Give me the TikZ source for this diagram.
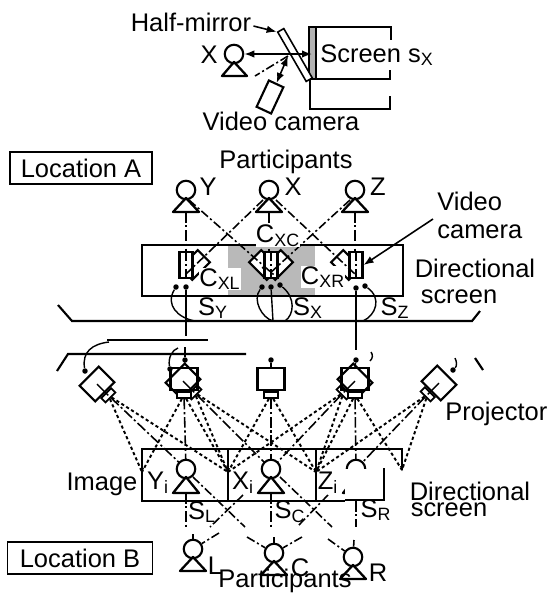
\documentclass[tikz,border=0pt]{standalone}
\usepackage{fontspec}
\setmainfont{Liberation Sans}
\usetikzlibrary{arrows.meta,positioning,calc}

\tikzset{
  txt/.style={inner sep=0pt, font=\fontsize{14.5}{14.5}\selectfont, align=center},
  head/.style={draw, circle, line width=1.2pt, minimum size=0.37cm, inner sep=0pt, fill=white},
  body/.style={draw, line width=1.3pt, join=round},
  ray/.style={line width=0.9pt, dash pattern=on 5pt off 1.6pt on 1.2pt off 1.6pt},
  beam/.style={line width=1.1pt, dash pattern=on 1.8pt off 1.5pt},
  axis/.style={line width=0.9pt, dash pattern=on 6pt off 1.6pt on 1.2pt off 1.6pt},
  wire/.style={line width=0.8pt},
  bar/.style={line width=1.2pt},
  tip/.style={circle, fill=black, inner sep=0pt, minimum size=0.11cm},
  unit/.style={draw, line width=1.2pt, minimum width=0.54cm, minimum height=0.44cm, inner sep=0pt, fill=white},
  lens/.style={draw, line width=1pt, minimum width=0.28cm, minimum height=0.12cm, inner sep=0pt, fill=white, anchor=north},
  camera/.style={draw, line width=1.2pt, minimum width=0.26cm, minimum height=0.52cm, inner sep=0pt, fill=white},
  small/.style={draw, line width=1.2pt, minimum width=0.34cm, minimum height=0.5cm, inner sep=0pt, fill=white},
  tag/.style={draw, line width=0.7pt, inner sep=0pt, font=\fontsize{14.5}{14.5}\selectfont},
  arrow/.style={-{Latex[length=2mm]}, line width=0.9pt}
}

\begin{document}
\begin{tikzpicture}[x=0.02cm, y=-0.02cm]
\useasboundingbox (0,0) rectangle (550,593);

% half-mirror set-up
\fill[gray!60] (309,27) rectangle (316,79);
\draw[bar] (309,27) rectangle (316,79);
\draw[bar] (309,27) -- (391,27);
\draw[bar] (391,26) -- (391,40);
\draw[wire] (390,70) -- (390,79) -- (310,79) -- (310,109) -- (390,109) -- (390,96);
\node[draw, line width=0.9pt, minimum width=0.14cm, minimum height=1.14cm, inner sep=0pt, rotate=30, fill=white] (mirror) at (295,55) {};
\node[draw, line width=1.2pt, minimum width=0.32cm, minimum height=0.58cm, inner sep=0pt, rotate=-25] (cam0) at (270,97) {};
\node[head] (h0) at (234,54) {};
\draw[body] (234,62) -- (247,76) -- (222,76) -- cycle;
\coordinate (hit) at (288,56);
\coordinate (sx) at (312,54);
\draw[arrow] (hit|-sx) -- (h0);
\draw[arrow] (hit|-sx) -- (sx);
\draw[arrow, {Latex[length=2mm]}-{Latex[length=2mm]}] (hit) -- (cam0.north);
\draw[ray] (hit) -- (255,76);
\node[txt] (lab0) at (191,22) {Half-mirror};
\draw[arrow] (lab0.east) ++(2,4) -- (mirror.north west);
\node[txt] at (209,55) {X};
\node[txt, anchor=west] at (320,55) {Screen s\textsubscript{X}};
\node[txt] at (281,121) {Video camera};

% location A
\node[tag, minimum width=2.84cm, minimum height=0.64cm] (tagA) at (81,168) {Location A};
\node[txt] at (286,162) {Participants};

\fill[gray!55] (228,245) rectangle (315,296);
\draw[wire] (142,245) rectangle (403,296);
\draw[bar] (142,245) -- (258,245);
\draw[bar] (142,296) -- (248,296);

% small cameras beside the screen units
\foreach \n/\x/\a in {a/195/-45,b/264/45,c/278/-45,d/346/45} {
  \node[small, rotate=\a] (k\n) at (\x,265) {};
}
\foreach \n/\x in {Y/186,X/269,Z/355} {
  \node[head] (h\n) at (\x,190) {};
  \draw[body] (\x,198) -- (\x+13,212) -- (\x-13,212) -- cycle;
  \draw[axis] (\x,212) -- (\x,252);
}
\foreach \n/\x in {Y/186,X/271,Z/356} {
  \node[camera] (c\n) at (\x,265) {};
  \draw[axis] (c\n.north) -- (c\n.south);
}
\draw[ray] (189,200) -- (kb.south);
\draw[ray] (263,200) -- (ka.south);
\draw[ray] (276,200) -- (kd.south);
\draw[ray] (350,200) -- (kc.south);

\node[txt, fill=white] at (278,236) {C\textsubscript{XC}};
\node[txt, fill=white] at (220,279) {C\textsubscript{XL}};
\node[txt, fill=white] at (323,277) {C\textsubscript{XR}};

\node[tip] (d1) at (176,287) {};
\node[tip] (d2) at (186,287) {};
\node[tip] (d3) at (262,287) {};
\node[tip] (d4) at (271,287) {};
\node[tip] (d5) at (280,285) {};
\node[tip] (d6) at (356,288) {};
\node[tip] (d7) at (365,286) {};
\coordinate (e1) at (195,321);
\coordinate (e2) at (273,321);
\coordinate (e3) at (285,321);
\coordinate (e4) at (363,321);
\draw[wire] (d1) .. controls (165,305) and (178,318) .. (e1);
\draw[bar] (d2) -- (186,336);
\draw[wire] (d3) .. controls (252,300) and (262,318) .. (e2);
\draw[wire] (d4) -- (e2);
\draw[wire] (d5) .. controls (296,298) and (294,315) .. (e3);
\draw[bar] (d6) -- (356,350);
\draw[wire] (d7) .. controls (382,298) and (376,315) .. (e4);

\draw[bar] (58,305) -- (72,321) -- (472,321) -- (480,311);
\draw[bar] (107,340) -- (208,340);
\draw[bar] (57,371) -- (68,354) -- (246,354);
\draw[bar] (475,358) -- (483,370);

\node[txt] at (213,308) {S\textsubscript{Y}};
\node[txt] at (308,308) {S\textsubscript{X}};
\node[txt] at (395,308) {S\textsubscript{Z}};
\node[txt] at (208,187) {Y};
\node[txt] at (293,187) {X};
\node[txt] at (378,187) {Z};
\node[txt, anchor=west, align=left] (labV) at (437,215) {Video\\[1.5pt]camera};
\draw[arrow] (433,219) -- (cZ.east);
\node[txt] at (475,268) {Directional};
\node[txt] at (459,297) {screen};

% projectors
\foreach \n/\x/\y/\a in {P/97/384/45,Q/183/381/45,R/271/379/0,S/355/381/-45,T/439/383/-45} {
  \node[unit, rotate=\a] (\n) at (\x,\y) {};
  \node[lens, rotate=\a] (l\n) at (\n.south) {};
}
\node[unit, fill=none] (Qa) at (184,379) {};
\node[lens] (lQa) at (Qa.south) {};
\node[unit, fill=none] (Sa) at (355,379) {};
\node[lens] (lSa) at (Sa.south) {};
\draw[wire] (P.center) -- (lP.center);
\draw[wire] (Q.center) -- (lQ.center);
\draw[wire] (S.center) -- (lS.center);
\draw[wire] (T.center) -- (lT.center);

\node[tip] (p1) at (85,371) {};
\node[tip] (p2) at (170,369) {};
\node[tip] (p3) at (185,360) {};
\node[tip] (p4) at (271,360) {};
\node[tip] (p5) at (356,360) {};
\node[tip] (p6) at (453,370) {};
\draw[wire] (p1) .. controls (82,352) and (92,344) .. (109,342);
\draw[wire] (p2) .. controls (168,358) and (172,350) .. (178,348);
\draw[wire] (p3) -- (185,347);
\draw[wire] (p4) -- (R.north);
\draw[wire] (p5) -- (Sa.north);
\draw[wire] (p6) .. controls (457,366) and (457,362) .. (455,358);
\draw[wire] (p5) ++(14,1) .. controls (373,358) and (373,355) .. (371,352);
\draw[bar] (356,340) -- (356,349);

\node[txt, anchor=west] at (445,414) {Projector};

% image plane
\coordinate (m0) at (142,472);
\coordinate (m1) at (228,472);
\coordinate (m2) at (316,472);
\coordinate (m3) at (402,470);
\coordinate (v1) at (186,469);
\coordinate (v2) at (271,469);
\coordinate (v3) at (356,469);
\foreach \l/\a/\b/\c in {lP/m0/m1/v1,lQa/m0/m1/v1,lQ/m1/m2/v2,lR/m1/m2/v2,lS/m1/m2/v2,lSa/m2/m3/v3,lT/m2/m3/v3} {
  \draw[beam] (\l) -- (\a);
  \draw[beam] (\l) -- (\b);
  \draw[axis] (\l) -- (\c);
}
\draw[wire] (142,449) rectangle (228,501);
\draw[wire] (228,449) rectangle (316,501);
\draw[bar] (316,449) -- (402,449) -- (402,470);
\draw[wire] (316,449) -- (316,501) -- (345,501);

\foreach \n/\x in {Yi/186,Xi/271,Zi/356} {
  \node[head] (h\n) at (\x,469) {};
  \draw[body] (\x,477) -- (\x+13,493) -- (\x-13,493) -- cycle;
}
% cut-out in front of the right image
\fill[white] (345,469) rectangle (384,499);
\draw[bar] (345,500) -- (384,500) -- (384,468);
\foreach \m in {m0,m1,m2,m3} {\fill (\m) ++(-2,-4) -- ++(4,0) -- ++(-2,5) -- cycle;}
\node[txt] at (102,484) {Image};
\node[txt] at (158,483) {Y\textsubscript{i}};
\node[txt] at (243,483) {X\textsubscript{i}};
\node[txt] at (328,483) {Z\textsubscript{i}};
\node[txt] at (470,491) {Directional};
\node[txt] at (449,510) {screen};
\node[txt] at (202,512) {S\textsubscript{L}};
\node[txt] at (290,512) {S\textsubscript{C}};
\node[txt] at (376,510) {S\textsubscript{R}};

% location B
\node[tag, minimum width=2.9cm, minimum height=0.64cm] (tagB) at (80,558) {Location B};
\foreach \n/\x/\y in {L/193/549,C/274/553,R/353/557} {
  \node[head] (g\n) at (\x,\y) {};
  \draw[body] (\x,\y+8) -- (\x+13,\y+22) -- (\x-13,\y+22) -- cycle;
}
\node[txt] at (215,566) {L};
\node[txt] at (300,568) {C};
\node[txt] at (378,573) {R};
\node[txt] at (285,581) {Participants};

\draw[axis] (186,493) -- (186,527);
\draw[axis] (271,493) -- (271,527);
\draw[axis] (356,501) -- (356,527);
\draw[axis] (193,534) -- (gL);
\draw[axis] (274,537) -- (gC);
\draw[axis] (354,540) -- (gR);
\draw[ray] (193,477) -- (245,527);
\draw[ray] (280,477) -- (332,527);
\draw[ray] (243,495) -- (210,527);
\draw[ray] (328,495) -- (297,527);
\draw[ray] (219,533) -- (gL);
\draw[ray] (302,537) -- (gC);
\draw[ray] (247,537) -- (gC);
\draw[ray] (328,539) -- (gR);
\end{tikzpicture}
\end{document}
